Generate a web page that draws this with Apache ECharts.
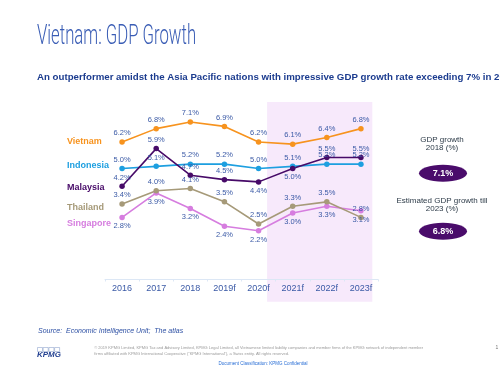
<!DOCTYPE html>
<html>
<head>
<meta charset="utf-8">
<script src="https://cdn.jsdelivr.net/npm/echarts@6/dist/echarts.min.js"></script>
<style>
  html, body { margin: 0; padding: 0; background: #fff; }
  #chart { width: 500px; height: 375px; }
</style>
</head>
<body>
<div id="chart"></div>
<script>
const years = ['2016', '2017', '2018', '2019f', '2020f', '2021f', '2022f', '2023f'];
const vietnam = [6.2, 6.8, 7.1, 6.9, 6.2, 6.1, 6.4, 6.8];
const indonesia = [5.0, 5.1, 5.2, 5.2, 5.0, 5.1, 5.2, 5.2];
const malaysia = [4.2, 5.9, 4.7, 4.5, 4.4, 5.0, 5.5, 5.5];
const thailand = [3.4, 4.0, 4.1, 3.5, 2.5, 3.3, 3.5, 2.8];
const singapore = [2.8, 3.9, 3.2, 2.4, 2.2, 3.0, 3.3, 3.1];

const labelColor = '#3b5aa6';

const makeSeries = (name, values, color, positions) => ({
  name: name,
  type: 'line',
  data: values.map((v, i) => ({
    value: v,
    label: { position: positions ? positions[i] : undefined }
  })),
  symbol: 'circle',
  symbolSize: 5.5,
  lineStyle: { color: color, width: 1.6 },
  itemStyle: { color: color },
  label: {
    show: true,
    position: 'top',
    distance: 2,
    formatter: (p) => p.value.toFixed(1) + '%',
    color: labelColor,
    fontSize: 7.5,
    fontFamily: 'Arial'
  }
});

const chart = echarts.init(document.getElementById('chart'));

const option = {
  backgroundColor: '#fff',
  animation: false,
  grid: { left: 105, top: 102, width: 273, height: 177.5 },
  xAxis: {
    type: 'category',
    data: years,
    axisLine: { lineStyle: { color: '#dce7f5', width: 1 } },
    axisTick: { show: true, length: 2, lineStyle: { color: '#dce7f5' } },
    axisLabel: { color: '#3b5aa6', fontSize: 9, fontFamily: 'Arial', margin: 5 }
  },
  yAxis: { type: 'value', min: 0, max: 8, show: false },
  series: [
    makeSeries('Singapore', singapore, '#d67ddf', Array(8).fill('bottom')),
    makeSeries('Thailand', thailand, '#a69a79'),
    makeSeries('Indonesia', indonesia, '#1d9fe0'),
    makeSeries('Malaysia', malaysia, '#470a68',
      ['top', 'top', 'top', 'top', 'bottom', 'bottom', 'top', 'top']),
    makeSeries('Vietnam', vietnam, '#f7931e')
  ]
};

chart.setOption(option);

// forecast shading, placed from the axis scales
const px = (c) => chart.convertToPixel({ xAxisIndex: 0 }, c);
const py = (v) => chart.convertToPixel({ yAxisIndex: 0 }, v);
const band = px(years[1]) - px(years[0]);
const shadeLeft = px('2020f') + band * 0.25;
const shadeRight = px('2023f') + band / 3;
const shadeTop = py(8);
const shadeBottom = py(-1);

const nameLabel = (text, y, color) => ({
  type: 'text', x: 67, y: y,
  style: { text: text, font: 'bold 9px Arial', fill: color, textVerticalAlign: 'middle' }
});

const pill = (cy, value) => [
  { type: 'ellipse', shape: { cx: 443, cy: cy, rx: 24, ry: 8.5 }, style: { fill: '#4a0c6b' } },
  {
    type: 'text', x: 443, y: cy,
    style: { text: value.toFixed(1) + '%', font: 'bold 9px Arial', fill: '#fff',
      textAlign: 'center', textVerticalAlign: 'middle' }
  }
];

const logoBoxes = [0, 1, 2, 3].map((i) => ({
  type: 'rect', shape: { x: 37.5 + i * 5.7, y: 347.5, width: 5, height: 4 },
  style: { fill: 'none', stroke: '#7d94c4', lineWidth: 0.5 }
}));

chart.setOption({
  graphic: [
    {
      type: 'rect', z: -1,
      shape: { x: shadeLeft, y: shadeTop, width: shadeRight - shadeLeft, height: shadeBottom - shadeTop },
      style: { fill: '#f7e9fb' }
    },
    {
      type: 'text', x: 37, y: 37, scaleX: 0.62,
      style: { text: 'Vietnam: GDP Growth', font: '300 27px Roboto', fill: '#3a5db5', textVerticalAlign: 'middle' }
    },
    {
      type: 'text', x: 37, y: 77,
      style: {
        text: 'An outperformer amidst the Asia Pacific nations with impressive GDP growth rate exceeding 7% in 2018',
        font: 'bold 9.7px Arial', fill: '#1c3c8f', textVerticalAlign: 'middle'
      }
    },
    nameLabel('Vietnam', 141.7, '#f7931e'),
    nameLabel('Indonesia', 166, '#1d9fe0'),
    nameLabel('Malaysia', 187.3, '#470a68'),
    nameLabel('Thailand', 207.3, '#a69a79'),
    nameLabel('Singapore', 223.3, '#d67ddf'),
    {
      type: 'text', x: 442, y: 135.5,
      style: { text: 'GDP growth\n2018 (%)', font: '8px Arial', fill: '#2d3b48',
        textAlign: 'center', lineHeight: 8.5 }
    },
    ...pill(173.3, vietnam[2]),
    {
      type: 'text', x: 442, y: 196.5,
      style: { text: 'Estimated GDP growth till\n2023 (%)', font: '8px Arial', fill: '#2d3b48',
        textAlign: 'center', lineHeight: 8.5 }
    },
    ...pill(231.3, vietnam[7]),
    {
      type: 'text', x: 38, y: 331.3,
      style: { text: 'Source:  Economic Intelligence Unit;  The atlas', font: 'italic 7px Arial',
        fill: '#2c4fa3', textVerticalAlign: 'middle' }
    },
    ...logoBoxes,
    {
      type: 'text', x: 37, y: 354.5,
      style: { text: 'KPMG', font: 'italic bold 8px Arial', fill: '#1f3d8f', textVerticalAlign: 'middle' }
    },
    {
      type: 'text', x: 94.3, y: 345.5,
      style: {
        text: '\u00a9 2019 KPMG Limited, KPMG Tax and Advisory Limited, KPMG Legal Limited, all Vietnamese limited liability companies and member firms of the KPMG network of independent member\nfirms affiliated with KPMG International Cooperative ("KPMG International"), a Swiss entity. All rights reserved.',
        font: '4px Arial', fill: '#9a9a9a', lineHeight: 5.6
      }
    },
    {
      type: 'text', x: 497, y: 348,
      style: { text: '1', font: '5px Arial', fill: '#777', textAlign: 'center', textVerticalAlign: 'middle' }
    },
    {
      type: 'text', x: 263, y: 363.3,
      style: { text: 'Document Classification: KPMG Confidential', font: '4.5px Arial', fill: '#2a6fd6',
        textAlign: 'center', textVerticalAlign: 'middle' }
    }
  ]
});
</script>
</body>
</html>
